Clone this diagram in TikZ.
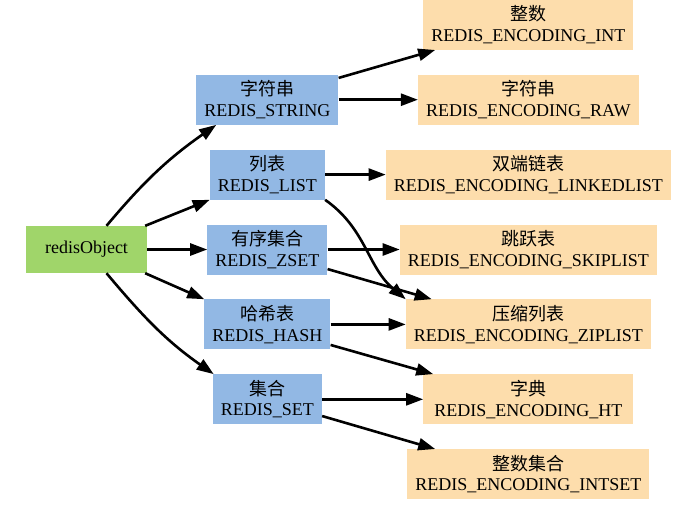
\documentclass[tikz,border=0pt]{standalone}
\usepackage{fontspec}
\setmainfont{Liberation Serif}
\newfontfamily\cjk{Noto Sans CJK SC}
\usepackage{tikz}
\usetikzlibrary{arrows.meta,positioning}
\definecolor{objgreen}{RGB}{160,213,106}
\definecolor{typblue}{RGB}{146,184,228}
\definecolor{encpeach}{RGB}{253,221,172}
\tikzset{
  arr/.style={-{Triangle[length=17pt,width=12pt]}, line width=2.6pt},
  objbox/.style={fill=objgreen, minimum width=121pt, minimum height=47pt,
                 font=\fontsize{18}{20}\selectfont},
  typbox/.style={fill=typblue, inner xsep=8pt, inner ysep=2pt, minimum height=50pt,
                 align=center, font=\fontsize{18}{20.5}\selectfont},
  encbox/.style={fill=encpeach, inner xsep=8pt, inner ysep=2pt, minimum height=50pt,
                 minimum width=210pt, align=center, font=\fontsize{18}{20.5}\selectfont},
}

\begin{document}
\begin{tikzpicture}[node distance=24.5pt]
  \useasboundingbox (0,0) rectangle (684pt,-515pt);
  \node[objbox] (obj) at (86.5pt,-249.5pt) {redisObject};
  % object types
  \node[typbox, right=60pt of obj] (zset) {{\cjk 有序集合}\\REDIS\_ZSET};
  \node[typbox, above=of zset] (list) {{\cjk 列表}\\REDIS\_LIST};
  \node[typbox, above=of list] (str) {{\cjk 字符串}\\REDIS\_STRING};
  \node[typbox, below=of zset] (hash) {{\cjk 哈希表}\\REDIS\_HASH};
  \node[typbox, below=of hash] (set) {{\cjk 集合}\\REDIS\_SET};
  % encodings
  \node[encbox] (skip) at ([xshift=261pt]zset.center) {{\cjk 跳跃表}\\REDIS\_ENCODING\_SKIPLIST};
  \node[encbox, above=of skip] (linked) {{\cjk 双端链表}\\REDIS\_ENCODING\_LINKEDLIST};
  \node[encbox, above=of linked] (raw) {{\cjk 字符串}\\REDIS\_ENCODING\_RAW};
  \node[encbox, above=of raw] (int) {{\cjk 整数}\\REDIS\_ENCODING\_INT};
  \node[encbox, below=of skip] (zip) {{\cjk 压缩列表}\\REDIS\_ENCODING\_ZIPLIST};
  \node[encbox, below=of zip] (ht) {{\cjk 字典}\\REDIS\_ENCODING\_HT};
  \node[encbox, below=of ht] (intset) {{\cjk 整数集合}\\REDIS\_ENCODING\_INTSET};

  \draw[arr] ([xshift=20pt]obj.north) to[out=50,in=-145] ([xshift=20pt]str.south west);
  \draw[arr] (obj.22) -- (list.south west);
  \draw[arr] (obj) -- (zset);
  \draw[arr] (obj.-22) -- (hash.north west);
  \draw[arr] ([xshift=20pt]obj.south) to[out=-50,in=145] ([xshift=1pt]set.north west);

  \draw[arr] (str.17) -- ([xshift=12pt]int.south west);
  \draw[arr] (str) -- (raw);
  \draw[arr] (list) -- (linked);
  \draw[arr] (list.south east) to[out=-35,in=140] (zip.north west);
  \draw[arr] (zset) -- (skip);
  \draw[arr] (zset.-18) -- ([xshift=26pt]zip.north west);
  \draw[arr] (hash) -- (zip);
  \draw[arr] (hash.-18) -- ([xshift=10pt]ht.north west);
  \draw[arr] (set) -- (ht);
  \draw[arr] (set.-17) -- ([xshift=28pt]intset.north west);
\end{tikzpicture}
\end{document}
